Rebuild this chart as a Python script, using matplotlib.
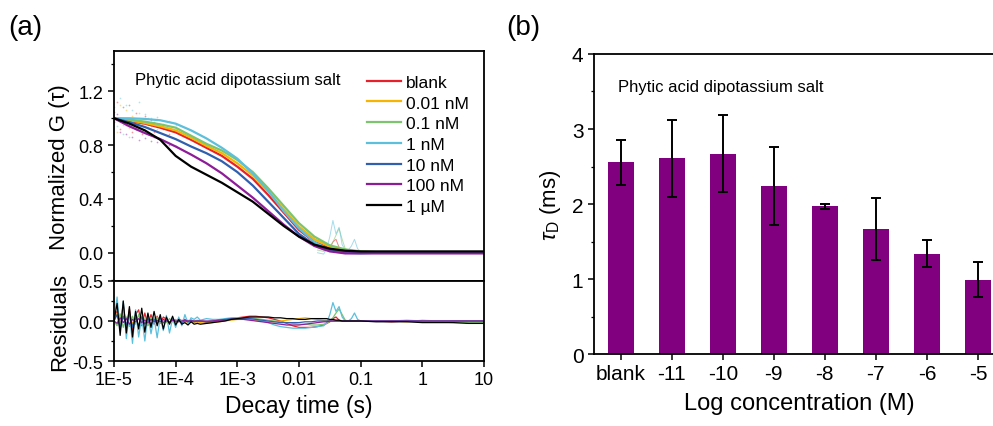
import numpy as np
import matplotlib
matplotlib.use("Agg")
from matplotlib import pyplot as plt
from matplotlib.ticker import MultipleLocator, LogLocator, NullFormatter

plt.rcParams['font.family'] = ['Liberation Sans', 'DejaVu Sans']
plt.rcParams['mathtext.fontset'] = 'custom'
plt.rcParams['mathtext.rm'] = 'Liberation Sans'
plt.rcParams['mathtext.it'] = 'Liberation Sans:italic'

# ---- panel (a): normalized FCS curves ----
labels = ['blank', '0.01 nM', '0.1 nM', '1 nM', '10 nM', '100 nM', '1 \u00b5M']
colors = ['#e8202c', '#f7b500', '#7cc46e', '#5cbfdc', '#2f5fae', '#8d1c98', '#000000']

fit_logt = np.arange(-5, 1.01, 0.25)
fit_g = {
    'blank':   [1.0, 0.98, 0.96, 0.93, 0.895, 0.84, 0.78, 0.72, 0.64, 0.55, 0.43, 0.30, 0.17,
                0.08, 0.035, 0.015, 0.005, 0.002, 0, 0, 0, 0, 0, 0, 0],
    '0.01 nM': [1.0, 0.985, 0.965, 0.94, 0.91, 0.855, 0.795, 0.74, 0.665, 0.575, 0.455, 0.325, 0.195,
                0.10, 0.045, 0.02, 0.008, 0.003, 0.001, 0, 0, 0, 0, 0, 0],
    '0.1 nM':  [1.0, 0.99, 0.975, 0.955, 0.93, 0.87, 0.81, 0.76, 0.69, 0.60, 0.48, 0.35, 0.22,
                0.12, 0.055, 0.025, 0.01, 0.005, 0.003, 0.003, 0.003, 0.003, 0.003, 0.003, 0.003],
    '1 nM':    [1.0, 1.0, 0.995, 0.985, 0.96, 0.91, 0.85, 0.78, 0.70, 0.59, 0.46, 0.31, 0.18,
                0.08, 0.02, 0.0, -0.005, 0.0, 0, 0, 0, 0, 0, 0, 0],
    '10 nM':   [1.0, 0.97, 0.935, 0.89, 0.845, 0.79, 0.74, 0.68, 0.60, 0.50, 0.38, 0.26, 0.14,
                0.06, 0.02, 0.008, 0.003, 0.001, 0, 0, 0, 0, 0, 0, 0],
    '100 nM':  [1.0, 0.94, 0.89, 0.845, 0.79, 0.73, 0.665, 0.59, 0.50, 0.41, 0.31, 0.21, 0.12,
                0.05, 0.01, -0.005, -0.005, -0.005, -0.005, -0.005, -0.005, -0.005, -0.005, -0.005, -0.005],
    '1 \u00b5M': [1.0, 0.96, 0.91, 0.84, 0.72, 0.64, 0.58, 0.52, 0.45, 0.38, 0.29, 0.20, 0.12,
                0.06, 0.03, 0.015, 0.01, 0.01, 0.01, 0.01, 0.01, 0.01, 0.01, 0.01, 0.01],
}

# faint raw points at short lag times
raw_logt = [-5.0, -4.95, -4.9, -4.85, -4.8, -4.75, -4.7, -4.65, -4.6, -4.55, -4.5, -4.45,
            -4.4, -4.35, -4.3, -4.2, -4.1, -4.0]
raw_g = {
    'blank':   [1.05, 1.12, 0.92, 1.08, 0.95, 1.10, 0.90, 1.04, 0.97, 0.88, 1.02, 0.93, 0.99, 0.90, 0.96, 0.92, 0.88, 0.91],
    '0.01 nM': [0.98, 0.90, 1.10, 0.95, 1.06, 0.93, 1.02, 0.92, 1.04, 0.96, 0.91, 1.00, 0.94, 0.97, 0.92, 0.95, 0.93, 0.90],
    '1 nM':    [1.08, 0.94, 1.15, 0.88, 1.10, 0.86, 1.06, 0.96, 1.12, 0.90, 1.03, 0.95, 1.00, 0.97, 1.01, 0.96, 0.98, 0.95],
    '100 nM':  [0.97, 1.03, 0.90, 0.98, 0.88, 0.95, 0.86, 0.92, 0.84, 0.90, 0.85, 0.88, 0.83, 0.86, 0.82, 0.84, 0.80, 0.79],
}
# raw data bumps around 30-100 ms
bump_logt = [-1.7, -1.6, -1.55, -1.5, -1.45, -1.4, -1.35, -1.3, -1.25, -1.2, -1.15, -1.1, -1.05, -1.0]
bump_g = {
    'blank':  [0.04, 0.02, 0.02, 0.03, 0.08, 0.10, 0.04, 0.02, 0.01, 0.01, 0.01, 0.01, 0.0, 0.0],
    '0.1 nM': [0.02, 0.01, 0.02, 0.05, 0.08, 0.13, 0.18, 0.10, 0.03, 0.02, 0.01, 0.01, 0.01, 0.01],
    '1 nM':   [0.0, -0.01, 0.03, 0.12, 0.24, 0.14, 0.19, 0.06, 0.02, 0.02, 0.05, 0.10, 0.03, 0.01],
}

res_logt = np.concatenate([np.arange(-5.0, -3.575, 0.05), np.arange(-3.5, -1.65, 0.1),
                           np.arange(-1.6, -0.975, 0.05), np.arange(-0.75, 1.01, 0.25)])
res = {
    'blank': [0.00, 0.12, -0.08, 0.20, -0.10, 0.15, -0.12, 0.08, 0.14, -0.06, 0.10, -0.05, 0.08, -0.04, 0.06,
              -0.03, 0.05, 0.02, -0.03, 0.04, -0.02, 0.03, 0.0, 0.02, -0.02, 0.01, 0.0, -0.01, 0.0,
              -0.02, -0.01, 0.0, 0.02, 0.03, 0.04, 0.05, 0.06, 0.06, 0.05, 0.04, 0.02, 0.0, -0.03, -0.06, -0.08,
              -0.08, -0.08, -0.07,
              -0.05, -0.03, -0.01, 0.03, 0.05, 0.01, 0.0, 0.0, 0.0, 0.0, 0.0, 0.0, 0.0,
              0.0, -0.01, 0.0, 0.0, -0.01, 0.0, 0.0, 0.0],
    '0.01 nM': [0.00, 0.10, -0.05, 0.08, -0.10, 0.06, -0.04, 0.07, -0.06, 0.05, -0.03, 0.04, -0.05, 0.03, -0.02,
                0.03, -0.03, 0.02, -0.02, 0.01, -0.02, 0.01, -0.01, 0.0, -0.02, -0.01, -0.02, -0.01, -0.02,
                -0.03, -0.02, -0.01, 0.0, 0.01, 0.02, 0.02, 0.02, 0.01, 0.0, -0.01, -0.01, 0.0, 0.01, 0.02, 0.03,
                0.04, 0.03, 0.02,
                0.01, 0.01, 0.0, 0.0, 0.01, 0.0, 0.0, 0.0, 0.0, 0.0, 0.0, 0.0, 0.0,
                0.0, 0.0, -0.01, 0.01, 0.0, -0.01, 0.0, 0.0],
    '0.1 nM': [0.00, -0.06, 0.09, -0.08, 0.05, -0.07, 0.06, -0.04, 0.08, -0.05, 0.03, -0.06, 0.04, -0.02, 0.05,
               -0.03, 0.02, -0.02, 0.03, -0.01, 0.02, -0.01, 0.01, 0.0, 0.01, -0.01, 0.0, 0.01, 0.0,
               -0.01, 0.0, 0.01, 0.02, 0.03, 0.04, 0.04, 0.04, 0.03, 0.02, 0.01, 0.0, -0.01, -0.02, -0.03, -0.04,
               -0.04, -0.05, -0.05,
               -0.04, -0.03, 0.0, 0.04, 0.10, 0.15, 0.08, 0.01, 0.0, 0.0, 0.0, 0.0, 0.0,
               0.0, 0.0, 0.0, -0.01, -0.01, -0.02, -0.02, -0.02],
    '1 nM': [0.00, 0.30, -0.12, 0.25, -0.22, 0.10, -0.28, 0.14, -0.20, 0.06, -0.25, 0.08, -0.16, 0.04, -0.21,
             0.05, -0.12, 0.07, -0.15, 0.03, -0.08, 0.05, -0.06, 0.08, -0.03, 0.04, 0.02, 0.05, 0.01,
             0.03, 0.02, 0.02, 0.03, 0.04, 0.04, 0.04, 0.03, 0.02, 0.0, -0.02, -0.05, -0.07, -0.08, -0.09,
             -0.09, -0.09, -0.08, -0.07,
             -0.06, -0.02, 0.08, 0.23, 0.12, 0.18, 0.05, 0.0, 0.0, 0.03, 0.10, 0.02, 0.0,
             0.0, 0.0, 0.01, 0.0, 0.0, 0.0, 0.0, 0.0],
    '10 nM': [0.00, 0.08, -0.10, 0.06, -0.05, 0.09, -0.07, 0.04, -0.06, 0.05, -0.04, 0.03, -0.05, 0.02, -0.03,
              0.04, -0.02, 0.01, -0.02, 0.02, -0.01, 0.01, -0.02, 0.0, -0.01, 0.01, -0.01, 0.0, 0.0,
              -0.01, 0.0, 0.01, 0.02, 0.03, 0.03, 0.03, 0.03, 0.02, 0.01, 0.0, -0.01, -0.02, -0.02, -0.02,
              -0.02, -0.01, -0.01, 0.0,
              0.0, 0.0, 0.0, 0.0, 0.0, 0.0, 0.0, 0.0, 0.0, 0.0, 0.0, 0.0, 0.0,
              0.0, 0.0, 0.0, 0.0, 0.0, 0.0, 0.0, 0.0],
    '100 nM': [0.00, -0.03, 0.04, -0.02, 0.03, -0.04, 0.02, -0.01, 0.03, -0.02, 0.01, -0.02, 0.02, -0.01, 0.01,
               -0.01, 0.02, 0.0, -0.01, 0.01, 0.0, -0.01, 0.0, 0.01, 0.0, 0.0, 0.0, 0.0, 0.0,
               0.0, 0.0, 0.01, 0.01, 0.02, 0.02, 0.02, 0.01, 0.0, -0.01, -0.02, -0.03, -0.04, -0.05, -0.05,
               -0.05, -0.04, -0.03, -0.02,
               -0.01, -0.01, 0.0, 0.0, 0.0, 0.0, 0.0, 0.0, 0.0, 0.0, 0.0, 0.0, 0.0,
               0.0, 0.0, 0.0, 0.0, 0.0, 0.0, 0.0, 0.0],
    '1 \u00b5M': [0.00, 0.22, -0.18, 0.25, -0.15, 0.18, -0.20, 0.12, -0.10, 0.16, -0.14, 0.10, -0.08, 0.12, -0.06,
                  0.08, -0.10, 0.05, -0.04, 0.06, -0.05, 0.02, -0.04, -0.02, -0.05, -0.01, -0.04, -0.03, -0.04,
                  -0.03, -0.02, -0.01, 0.0, 0.02, 0.03, 0.04, 0.05, 0.05, 0.05, 0.05, 0.04, 0.04, 0.03, 0.03,
                  0.02, 0.02, 0.03, 0.03,
                  0.03, 0.03, 0.02, 0.02, 0.01, 0.01, 0.0, 0.0, 0.0, 0.0, 0.0, 0.0, 0.0,
                  -0.01, -0.01, -0.01, -0.02, -0.02, -0.02, -0.03, -0.03],
}

# ---- panel (b): diffusion time bars ----
conc_labels = ['blank', '-11', '-10', '-9', '-8', '-7', '-6', '-5']
tau_d = [2.56, 2.61, 2.67, 2.24, 1.97, 1.67, 1.34, 0.99]
tau_err = [0.30, 0.51, 0.51, 0.52, 0.03, 0.41, 0.18, 0.235]

fig = plt.figure(figsize=(9.93, 4.27), dpi=100)
ax1 = fig.add_axes([0.1148, 0.3396, 0.3726, 0.5386])
ax2 = fig.add_axes([0.1148, 0.1522, 0.3726, 0.1874], sharex=ax1)
ax3 = fig.add_axes([0.598, 0.1686, 0.414, 0.7026])

# raw dots and bumps first (behind fits)
for lab, c in zip(labels, colors):
    if lab in raw_g:
        ax1.scatter(10.0 ** np.array(raw_logt), raw_g[lab], s=1.5, color=c, alpha=0.45, linewidths=0)
    if lab in bump_g:
        ax1.plot(10.0 ** np.array(bump_logt), bump_g[lab], color=c, lw=0.7, alpha=0.55)

for lab, c in zip(labels, colors):
    ax1.plot(10.0 ** fit_logt, fit_g[lab], color=c, lw=1.6, label=lab)
    ax2.plot(10.0 ** res_logt, res[lab], color=c, lw=0.9)

ax1.set_xscale('log')
ax1.set_xlim(1e-5, 10)
ax1.set_ylim(-0.21, 1.5)
ax1.set_yticks([0.0, 0.4, 0.8, 1.2])
ax1.set_yticklabels(['0.0', '0.4', '0.8', '1.2'])
ax1.yaxis.set_minor_locator(MultipleLocator(0.2))
ax1.tick_params(axis='x', which='both', bottom=False, labelbottom=False)
ax1.set_ylabel('Normalized G (\u03c4)', fontsize=16, labelpad=6)
ax1.text(0.057, 0.878, 'Phytic acid dipotassium salt', transform=ax1.transAxes,
         fontsize=12, va='center', ha='left')
ax1.legend(loc='upper left', bbox_to_anchor=(0.65, 0.95), frameon=False, fontsize=12.5,
           handlelength=2.0, handletextpad=0.25, labelspacing=0.32, borderpad=0.2)

ax2.set_ylim(-0.5, 0.5)
ax2.set_yticks([-0.5, 0.0, 0.5])
ax2.set_yticklabels(['-0.5', '0.0', '0.5'])
ax2.yaxis.set_minor_locator(MultipleLocator(0.25))
ax2.set_xticks([1e-5, 1e-4, 1e-3, 1e-2, 1e-1, 1, 10])
ax2.set_xticklabels(['1E-5', '1E-4', '1E-3', '0.01', '0.1', '1', '10'])
ax2.xaxis.set_minor_locator(LogLocator(base=10, subs=np.arange(2, 10)))
ax2.xaxis.set_minor_formatter(NullFormatter())
ax2.set_xlim(1e-5, 10)
ax2.set_xlabel('Decay time (s)', fontsize=16.5, labelpad=4)
ax2.set_ylabel('Residuals', fontsize=16, labelpad=2)

for ax in (ax1, ax2):
    ax.tick_params(which='major', direction='out', length=4, width=1.1, labelsize=13)
    ax.tick_params(which='minor', direction='out', length=2.5, width=0.9)
    for s in ax.spines.values():
        s.set_linewidth(1.3)

x = np.arange(len(conc_labels))
ax3.bar(x, tau_d, width=0.5, color='#800080', zorder=2)
ax3.errorbar(x, tau_d, yerr=tau_err, fmt='none', ecolor='black', elinewidth=1.4,
             capsize=3.5, capthick=1.4, zorder=3)
ax3.set_xlim(-0.53, 7.53)
ax3.set_ylim(0, 4)
ax3.set_xticks(x)
ax3.set_xticklabels(conc_labels)
ax3.set_yticks([0, 1, 2, 3, 4])
ax3.yaxis.set_minor_locator(MultipleLocator(0.5))
ax3.tick_params(which='major', direction='out', length=4, width=1.1, labelsize=15)
ax3.tick_params(which='minor', direction='out', length=2.5, width=0.9)
for s in ax3.spines.values():
    s.set_linewidth(1.3)
ax3.set_xlabel('Log concentration (M)', fontsize=17, labelpad=6)
ax3.set_ylabel(r'$\tau_\mathrm{D}$ (ms)', fontsize=16, labelpad=6)
ax3.text(0.058, 0.89, 'Phytic acid dipotassium salt', transform=ax3.transAxes,
         fontsize=12, va='center', ha='left')

fig.text(0.008, 0.935, '(a)', fontsize=20, va='center', ha='left')
fig.text(0.510, 0.935, '(b)', fontsize=20, va='center', ha='left')

fig.savefig('out.png', dpi=100)
